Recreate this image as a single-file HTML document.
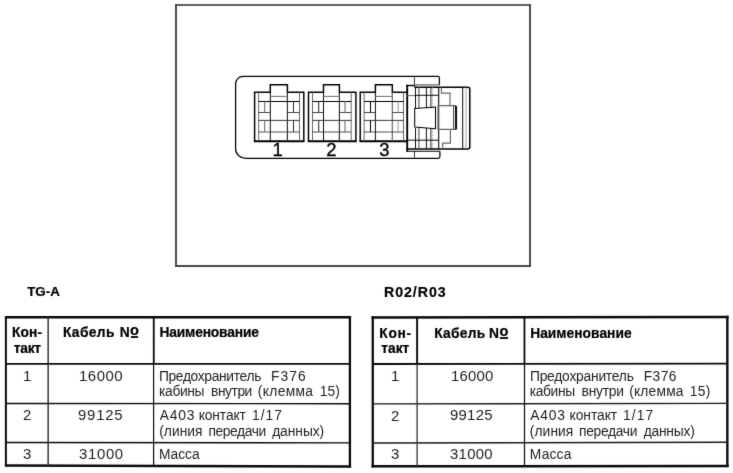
<!DOCTYPE html>
<html lang="ru">
<head>
<meta charset="utf-8">
<title>TG-A / R02/R03</title>
<style>
html,body{margin:0;padding:0;background:#fff;}
body{width:733px;height:473px;position:relative;overflow:hidden;font-family:"Liberation Sans",sans-serif;color:#1c1c1c;}
svg{position:absolute;left:0;top:0;}
#p{position:absolute;left:0;top:0;width:733px;height:473px;background:#fff;filter:url(#soft);}
.t{position:absolute;white-space:nowrap;line-height:20px;display:block;height:20px;}
.u{position:absolute;display:block;background:#141414;}
</style>
</head>
<body>
<svg width="0" height="0" style="position:absolute"><filter id="soft" x="0" y="0" width="100%" height="100%" color-interpolation-filters="sRGB"><feConvolveMatrix order="3" kernelMatrix="0.01 0.07 0.01 0.07 0.68 0.07 0.01 0.07 0.01" edgeMode="duplicate" preserveAlpha="false"/></filter></svg>
<div id="p">
<svg width="733" height="473" viewBox="0 0 733 473">
<line x1="175.1" y1="5.0" x2="530.9" y2="5.0" stroke="#2a2a2a" stroke-width="1.45"/>
<line x1="175.1" y1="266.0" x2="530.9" y2="266.0" stroke="#0c0c0c" stroke-width="1.6"/>
<line x1="176.0" y1="4.3" x2="176.0" y2="266.8" stroke="#3c3c3c" stroke-width="1.8"/>
<line x1="530.0" y1="4.3" x2="530.0" y2="266.8" stroke="#3c3c3c" stroke-width="1.8"/>
<path d="M439.4,85 L439.4,78.2 Q439.4,76.4 437.6,76.4 L243.1,76.4 A7.5,7.5 0 0 0 235.6,83.9 L235.6,149.3 A10.5,9 0 0 0 246.1,158.3 L438.1,158.3 Q439.9,158.3 439.9,156.5 L439.9,151.2" fill="none" stroke="#000" stroke-width="1.26" />
<line x1="414.4" y1="76.4" x2="414.4" y2="87.2" stroke="#2e2e2e" stroke-width="0.95" />
<line x1="414.4" y1="84.9" x2="439.4" y2="84.9" stroke="#666" stroke-width="1.26" />
<line x1="414.5" y1="151.2" x2="414.5" y2="158.3" stroke="#2e2e2e" stroke-width="0.95" />
<line x1="407.2" y1="151.2" x2="439.9" y2="151.2" stroke="#000" stroke-width="1.1" />
<path d="M254.6,141.2 L254.6,92.3 L270.3,92.3 L270.3,84.8 L287.4,84.8 L287.4,92.3 L303.8,92.3 L303.8,141.2" fill="none" stroke="#000" stroke-width="1.47" />
<line x1="253.9" y1="141.2" x2="304.5" y2="141.2" stroke="#000" stroke-width="1.89" />
<line x1="258.7" y1="92.3" x2="258.7" y2="141.2" stroke="#555" stroke-width="0.89" />
<line x1="299.5" y1="92.3" x2="299.5" y2="141.2" stroke="#555" stroke-width="0.89" />
<line x1="270.3" y1="92.3" x2="270.3" y2="141.2" stroke="#000" stroke-width="0.95" />
<line x1="287.4" y1="92.3" x2="287.4" y2="141.2" stroke="#2e2e2e" stroke-width="1.16" />
<line x1="270.3" y1="96.4" x2="287.4" y2="96.4" stroke="#666" stroke-width="0.95" />
<line x1="258.7" y1="101.5" x2="299.5" y2="101.5" stroke="#000" stroke-width="1.16" />
<line x1="258.7" y1="112.5" x2="270.3" y2="112.5" stroke="#2e2e2e" stroke-width="0.89" />
<line x1="287.4" y1="112.5" x2="299.5" y2="112.5" stroke="#2e2e2e" stroke-width="0.89" />
<line x1="258.7" y1="120.4" x2="299.5" y2="120.4" stroke="#2e2e2e" stroke-width="0.95" />
<line x1="258.7" y1="132.0" x2="299.5" y2="132.0" stroke="#2e2e2e" stroke-width="0.84" />
<line x1="264.7" y1="101.5" x2="264.7" y2="112.5" stroke="#666" stroke-width="1.05" />
<line x1="293.5" y1="101.5" x2="293.5" y2="112.5" stroke="#2e2e2e" stroke-width="1.05" />
<line x1="264.7" y1="120.4" x2="264.7" y2="132.0" stroke="#666" stroke-width="1.05" />
<line x1="293.5" y1="120.4" x2="293.5" y2="132.0" stroke="#2e2e2e" stroke-width="1.05" />
<path d="M308.5,141.2 L308.5,92.3 L323.5,92.3 L323.5,84.8 L339.4,84.8 L339.4,92.3 L355.9,92.3 L355.9,141.2" fill="none" stroke="#000" stroke-width="1.47" />
<line x1="307.8" y1="141.2" x2="356.59999999999997" y2="141.2" stroke="#000" stroke-width="1.89" />
<line x1="312.5" y1="92.3" x2="312.5" y2="141.2" stroke="#555" stroke-width="0.89" />
<line x1="351.2" y1="92.3" x2="351.2" y2="141.2" stroke="#555" stroke-width="0.89" />
<line x1="323.5" y1="92.3" x2="323.5" y2="141.2" stroke="#000" stroke-width="0.95" />
<line x1="339.4" y1="92.3" x2="339.4" y2="141.2" stroke="#2e2e2e" stroke-width="1.16" />
<line x1="323.5" y1="96.4" x2="339.4" y2="96.4" stroke="#666" stroke-width="0.95" />
<line x1="312.5" y1="101.5" x2="351.2" y2="101.5" stroke="#000" stroke-width="1.16" />
<line x1="312.5" y1="112.5" x2="323.5" y2="112.5" stroke="#2e2e2e" stroke-width="0.89" />
<line x1="339.4" y1="112.5" x2="351.2" y2="112.5" stroke="#2e2e2e" stroke-width="0.89" />
<line x1="312.5" y1="120.4" x2="351.2" y2="120.4" stroke="#2e2e2e" stroke-width="0.95" />
<line x1="312.5" y1="132.0" x2="351.2" y2="132.0" stroke="#2e2e2e" stroke-width="0.84" />
<line x1="318.7" y1="101.5" x2="318.7" y2="112.5" stroke="#2e2e2e" stroke-width="1.05" />
<line x1="345.0" y1="101.5" x2="345.0" y2="112.5" stroke="#666" stroke-width="1.05" />
<line x1="318.7" y1="120.4" x2="318.7" y2="132.0" stroke="#2e2e2e" stroke-width="1.05" />
<line x1="345.0" y1="120.4" x2="345.0" y2="132.0" stroke="#666" stroke-width="1.05" />
<path d="M360.2,141.2 L360.2,92.3 L375.4,92.3 L375.4,84.8 L392.3,84.8 L392.3,92.3 L407.2,92.3" fill="none" stroke="#000" stroke-width="1.47" />
<line x1="359.5" y1="141.2" x2="407.9" y2="141.2" stroke="#000" stroke-width="1.89" />
<line x1="364.1" y1="92.3" x2="364.1" y2="141.2" stroke="#555" stroke-width="0.89" />
<line x1="403.5" y1="92.3" x2="403.5" y2="141.2" stroke="#555" stroke-width="0.89" />
<line x1="375.4" y1="92.3" x2="375.4" y2="141.2" stroke="#000" stroke-width="0.95" />
<line x1="392.3" y1="92.3" x2="392.3" y2="141.2" stroke="#666" stroke-width="1.16" />
<line x1="375.4" y1="96.4" x2="392.3" y2="96.4" stroke="#666" stroke-width="0.95" />
<line x1="364.1" y1="101.5" x2="403.5" y2="101.5" stroke="#000" stroke-width="1.16" />
<line x1="364.1" y1="112.5" x2="375.4" y2="112.5" stroke="#2e2e2e" stroke-width="0.89" />
<line x1="392.3" y1="112.5" x2="403.5" y2="112.5" stroke="#2e2e2e" stroke-width="0.89" />
<line x1="364.1" y1="120.4" x2="403.5" y2="120.4" stroke="#2e2e2e" stroke-width="0.95" />
<line x1="364.1" y1="132.0" x2="403.5" y2="132.0" stroke="#2e2e2e" stroke-width="0.84" />
<line x1="370.5" y1="101.5" x2="370.5" y2="112.5" stroke="#000" stroke-width="1.05" />
<line x1="398.1" y1="101.5" x2="398.1" y2="112.5" stroke="#999" stroke-width="1.05" />
<line x1="370.5" y1="120.4" x2="370.5" y2="132.0" stroke="#000" stroke-width="1.05" />
<line x1="398.1" y1="120.4" x2="398.1" y2="132.0" stroke="#999" stroke-width="1.05" />
<line x1="407.2" y1="84.8" x2="407.2" y2="151.9" stroke="#000" stroke-width="1.89" />
<line x1="406.3" y1="85.5" x2="414.4" y2="85.5" stroke="#000" stroke-width="1.37" />
<path d="M414.4,87.2 L457,87.2" fill="none" stroke="#000" stroke-width="1.47" />
<path d="M457,87.2 L467.8,87.2 Q469.8,87.2 469.8,89.2 L469.8,146.9 Q469.8,148.9 467.8,148.9 L407.2,148.9" fill="none" stroke="#000" stroke-width="1.47" />
<line x1="462.7" y1="87.2" x2="462.7" y2="148.9" stroke="#000" stroke-width="0.95" />
<line x1="466.0" y1="87.2" x2="466.0" y2="148.9" stroke="#888" stroke-width="0.73" />
<line x1="415.5" y1="87.2" x2="415.5" y2="108.2" stroke="#000" stroke-width="0.95" />
<line x1="418.9" y1="87.2" x2="418.9" y2="108.2" stroke="#666" stroke-width="1.26" />
<line x1="426.4" y1="87.2" x2="426.4" y2="108.2" stroke="#000" stroke-width="0.95" />
<line x1="430.9" y1="87.2" x2="430.9" y2="108.2" stroke="#000" stroke-width="0.84" />
<line x1="432.4" y1="87.2" x2="432.4" y2="108.2" stroke="#999" stroke-width="0.73" stroke-dasharray="2 1"/>
<line x1="415.5" y1="128.0" x2="415.5" y2="148.9" stroke="#000" stroke-width="0.95" />
<line x1="418.9" y1="128.0" x2="418.9" y2="148.9" stroke="#666" stroke-width="1.26" />
<line x1="426.4" y1="128.0" x2="426.4" y2="148.9" stroke="#000" stroke-width="0.95" />
<line x1="430.9" y1="128.0" x2="430.9" y2="148.9" stroke="#000" stroke-width="0.84" />
<line x1="432.4" y1="128.0" x2="432.4" y2="148.9" stroke="#999" stroke-width="0.73" stroke-dasharray="2 1"/>
<line x1="438.7" y1="87.2" x2="438.7" y2="148.9" stroke="#000" stroke-width="1.05" />
<line x1="407.2" y1="95.6" x2="414.4" y2="95.6" stroke="#666" stroke-width="1.05" />
<line x1="414.4" y1="95.3" x2="438.7" y2="95.3" stroke="#000" stroke-width="0.95" />
<line x1="407.2" y1="140.2" x2="438.7" y2="140.2" stroke="#000" stroke-width="0.95" />
<path d="M441.4,87.2 L441.4,93.2 L450.0,93.2 L450.0,105.6" fill="none" stroke="#666" stroke-width="1.16" />
<path d="M450.4,129.4 L450.4,143.2 L442.7,143.2 L442.7,148.9" fill="none" stroke="#666" stroke-width="1.16" />
<path d="M414.7,108.5 L435.5,107.1 L435.5,128.8 L414.7,127.1 Z" fill="none" stroke="#000" stroke-width="1.05" />
<path d="M456,105.6 L438.0,105.6 L438.0,129.4 L456,129.4" fill="none" stroke="#666" stroke-width="1.16" />
<line x1="453.6" y1="105.6" x2="453.6" y2="129.4" stroke="#2e2e2e" stroke-width="0.95" />
<rect x="455" y="106" width="2.1" height="23.5" fill="#111"/>
<line x1="4.9" y1="317.2" x2="351.1" y2="317.3" stroke="#0a0a0a" stroke-width="2.5" />
<line x1="4.9" y1="465.5" x2="351.1" y2="466.4" stroke="#0a0a0a" stroke-width="2.5" />
<line x1="5.9" y1="316" x2="5.9" y2="466.6" stroke="#0a0a0a" stroke-width="2.0" />
<line x1="349.9" y1="316" x2="349.9" y2="467.5" stroke="#0a0a0a" stroke-width="2.3" />
<line x1="5" y1="363.8" x2="351" y2="363.9" stroke="#0a0a0a" stroke-width="1.8" />
<line x1="5" y1="403.5" x2="351" y2="403.7" stroke="#0a0a0a" stroke-width="1.4" />
<line x1="5" y1="442.5" x2="351" y2="442.9" stroke="#0a0a0a" stroke-width="1.4" />
<line x1="48.15" y1="317" x2="48.15" y2="466" stroke="#2a2a2a" stroke-width="1.4" />
<line x1="153.75" y1="317" x2="153.75" y2="363.8" stroke="#0a0a0a" stroke-width="1.8" />
<line x1="153.6" y1="363.8" x2="153.6" y2="466" stroke="#0a0a0a" stroke-width="1.2" />
<line x1="371.5" y1="317.6" x2="728.6" y2="317.0" stroke="#0a0a0a" stroke-width="2.5" />
<line x1="371.5" y1="466.3" x2="728.6" y2="465.9" stroke="#0a0a0a" stroke-width="2.5" />
<line x1="372.75" y1="316.4" x2="372.75" y2="467.5" stroke="#0a0a0a" stroke-width="2.3" />
<line x1="727.35" y1="315.8" x2="727.35" y2="467.1" stroke="#0a0a0a" stroke-width="2.4" />
<line x1="372" y1="364.0" x2="728" y2="363.6" stroke="#0a0a0a" stroke-width="1.9" />
<line x1="372" y1="403.9" x2="728" y2="403.35" stroke="#1a1a1a" stroke-width="1.4" />
<line x1="372" y1="443.0" x2="728" y2="442.3" stroke="#1a1a1a" stroke-width="1.4" />
<line x1="417.1" y1="317" x2="417.1" y2="364" stroke="#0a0a0a" stroke-width="1.9" />
<line x1="417.1" y1="364" x2="417.1" y2="466" stroke="#333" stroke-width="1.3" />
<line x1="524.45" y1="317" x2="524.45" y2="364" stroke="#0a0a0a" stroke-width="1.8" />
<line x1="524.5" y1="364" x2="524.5" y2="466" stroke="#0a0a0a" stroke-width="1.2" />
</svg>
<span class="t" style="left:272.57px;top:140px;font-size:18.5px;color:#000;-webkit-text-stroke:0.35px #000;">1</span>
<span class="t" style="left:326.27px;top:140px;font-size:18.5px;color:#000;-webkit-text-stroke:0.35px #000;">2</span>
<span class="t" style="left:379.31px;top:140px;font-size:18.5px;color:#000;-webkit-text-stroke:0.35px #000;">3</span>
<span class="t" style="left:12.05px;top:323px;font-size:13.8px;font-weight:bold;-webkit-text-stroke:0.2px #000;letter-spacing:0.063px;color:#000;">Кон-</span>
<span class="t" style="left:13.75px;top:339px;font-size:13.8px;font-weight:bold;-webkit-text-stroke:0.2px #000;letter-spacing:-0.271px;color:#000;">такт</span>
<span class="t" style="left:62.90px;top:323px;font-size:13.8px;font-weight:bold;-webkit-text-stroke:0.2px #000;letter-spacing:0.366px;color:#000;">Кабель</span>
<span class="t" style="left:119.63px;top:323px;font-size:13.8px;font-weight:bold;-webkit-text-stroke:0.2px #000;color:#000;">N</span>
<span class="t" style="left:130.00px;top:320px;font-size:14.6px;font-weight:bold;-webkit-text-stroke:0.2px #000;color:#000;">o</span>
<span class="u" style="left:130.9px;top:336px;width:7.1px;height:1.7px;"></span>
<span class="t" style="left:159.40px;top:323px;font-size:13.8px;font-weight:bold;-webkit-text-stroke:0.2px #000;letter-spacing:-0.147px;color:#000;">Наименование</span>
<span class="t" style="left:22.81px;top:367px;font-size:13.8px;color:#1e1e1e;transform:scaleX(1.08);transform-origin:0 0;">1</span>
<span class="t" style="left:79.28px;top:367px;font-size:13.8px;letter-spacing:0.512px;color:#1e1e1e;transform:scaleX(1.08);transform-origin:0 0;">16000</span>
<span class="t" style="left:158.95px;top:367px;font-size:13.8px;letter-spacing:-0.332px;color:#1e1e1e;">Предохранитель</span>
<span class="t" style="left:271.10px;top:367px;font-size:13.8px;letter-spacing:1.006px;color:#1e1e1e;">F376</span>
<span class="t" style="left:159.10px;top:382px;font-size:13.8px;letter-spacing:-0.364px;color:#1e1e1e;">кабины</span>
<span class="t" style="left:211.10px;top:382px;font-size:13.8px;letter-spacing:-0.463px;color:#1e1e1e;">внутри</span>
<span class="t" style="left:257.87px;top:382px;font-size:13.8px;letter-spacing:0.335px;color:#1e1e1e;">(клемма</span>
<span class="t" style="left:319.86px;top:382px;font-size:13.8px;letter-spacing:-0.005px;color:#1e1e1e;">15)</span>
<span class="t" style="left:22.53px;top:406px;font-size:13.8px;color:#1e1e1e;transform:scaleX(1.08);transform-origin:0 0;">2</span>
<span class="t" style="left:78.43px;top:406px;font-size:13.8px;letter-spacing:0.727px;color:#1e1e1e;transform:scaleX(1.08);transform-origin:0 0;">99125</span>
<span class="t" style="left:159.70px;top:406px;font-size:13.8px;letter-spacing:0.846px;color:#1e1e1e;">А403</span>
<span class="t" style="left:198.70px;top:406px;font-size:13.8px;letter-spacing:-0.111px;color:#1e1e1e;">контакт</span>
<span class="t" style="left:251.97px;top:406px;font-size:13.8px;letter-spacing:1.004px;color:#1e1e1e;">1/17</span>
<span class="t" style="left:159.17px;top:422px;font-size:13.8px;letter-spacing:0.057px;color:#1e1e1e;">(линия</span>
<span class="t" style="left:208.50px;top:422px;font-size:13.8px;letter-spacing:-0.410px;color:#1e1e1e;">передачи</span>
<span class="t" style="left:272.13px;top:422px;font-size:13.8px;letter-spacing:-0.052px;color:#1e1e1e;">данных)</span>
<span class="t" style="left:22.80px;top:445px;font-size:13.8px;color:#1e1e1e;transform:scaleX(1.08);transform-origin:0 0;">3</span>
<span class="t" style="left:78.78px;top:445px;font-size:13.8px;letter-spacing:0.629px;color:#1e1e1e;transform:scaleX(1.08);transform-origin:0 0;">31000</span>
<span class="t" style="left:158.95px;top:445px;font-size:13.8px;letter-spacing:-0.025px;color:#1e1e1e;">Масса</span>
<span class="t" style="left:379.30px;top:324px;font-size:13.8px;font-weight:bold;-webkit-text-stroke:0.2px #000;letter-spacing:0.679px;color:#000;">Кон-</span>
<span class="t" style="left:381.35px;top:339px;font-size:13.8px;font-weight:bold;-webkit-text-stroke:0.2px #000;letter-spacing:-0.037px;color:#000;">такт</span>
<span class="t" style="left:434.20px;top:324px;font-size:13.8px;font-weight:bold;-webkit-text-stroke:0.2px #000;letter-spacing:0.246px;color:#000;">Кабель</span>
<span class="t" style="left:489.08px;top:324px;font-size:13.8px;font-weight:bold;-webkit-text-stroke:0.2px #000;color:#000;">N</span>
<span class="t" style="left:499.55px;top:321px;font-size:14.6px;font-weight:bold;-webkit-text-stroke:0.2px #000;color:#000;">o</span>
<span class="u" style="left:500.2px;top:337px;width:7.6px;height:1.7px;"></span>
<span class="t" style="left:530.20px;top:324px;font-size:13.8px;font-weight:bold;-webkit-text-stroke:0.2px #000;letter-spacing:0.017px;color:#000;">Наименование</span>
<span class="t" style="left:390.76px;top:367px;font-size:13.8px;color:#1e1e1e;transform:scaleX(1.08);transform-origin:0 0;">1</span>
<span class="t" style="left:450.68px;top:367px;font-size:13.8px;letter-spacing:0.188px;color:#1e1e1e;transform:scaleX(1.08);transform-origin:0 0;">16000</span>
<span class="t" style="left:529.95px;top:367px;font-size:13.8px;letter-spacing:-0.217px;color:#1e1e1e;">Предохранитель</span>
<span class="t" style="left:643.70px;top:367px;font-size:13.8px;letter-spacing:0.439px;color:#1e1e1e;">F376</span>
<span class="t" style="left:529.80px;top:382px;font-size:13.8px;letter-spacing:-0.364px;color:#1e1e1e;">кабины</span>
<span class="t" style="left:581.60px;top:382px;font-size:13.8px;letter-spacing:-0.243px;color:#1e1e1e;">внутри</span>
<span class="t" style="left:629.17px;top:382px;font-size:13.8px;letter-spacing:0.202px;color:#1e1e1e;">(клемма</span>
<span class="t" style="left:689.87px;top:382px;font-size:13.8px;letter-spacing:0.295px;color:#1e1e1e;">15)</span>
<span class="t" style="left:390.53px;top:407px;font-size:13.8px;color:#1e1e1e;transform:scaleX(1.08);transform-origin:0 0;">2</span>
<span class="t" style="left:449.93px;top:406px;font-size:13.8px;letter-spacing:0.241px;color:#1e1e1e;transform:scaleX(1.08);transform-origin:0 0;">99125</span>
<span class="t" style="left:530.20px;top:406px;font-size:13.8px;letter-spacing:0.846px;color:#1e1e1e;">А403</span>
<span class="t" style="left:569.50px;top:406px;font-size:13.8px;letter-spacing:-0.028px;color:#1e1e1e;">контакт</span>
<span class="t" style="left:622.97px;top:406px;font-size:13.8px;letter-spacing:1.104px;color:#1e1e1e;">1/17</span>
<span class="t" style="left:529.87px;top:422px;font-size:13.8px;letter-spacing:0.057px;color:#1e1e1e;">(линия</span>
<span class="t" style="left:579.10px;top:422px;font-size:13.8px;letter-spacing:-0.310px;color:#1e1e1e;">передачи</span>
<span class="t" style="left:643.63px;top:422px;font-size:13.8px;letter-spacing:-0.202px;color:#1e1e1e;">данных)</span>
<span class="t" style="left:390.60px;top:445px;font-size:13.8px;color:#1e1e1e;transform:scaleX(1.08);transform-origin:0 0;">3</span>
<span class="t" style="left:450.28px;top:445px;font-size:13.8px;letter-spacing:0.281px;color:#1e1e1e;transform:scaleX(1.08);transform-origin:0 0;">31000</span>
<span class="t" style="left:529.80px;top:445px;font-size:13.8px;letter-spacing:0.188px;color:#1e1e1e;">Масса</span>
<span class="t" style="left:27.17px;top:282px;font-size:13.4px;font-weight:bold;-webkit-text-stroke:0.2px #000;letter-spacing:0.028px;color:#000;">TG-A</span>
<span class="t" style="left:383.98px;top:282px;font-size:14.2px;font-weight:bold;-webkit-text-stroke:0.2px #000;letter-spacing:0.949px;color:#000;">R02/R03</span>
</div>
</body>
</html>
